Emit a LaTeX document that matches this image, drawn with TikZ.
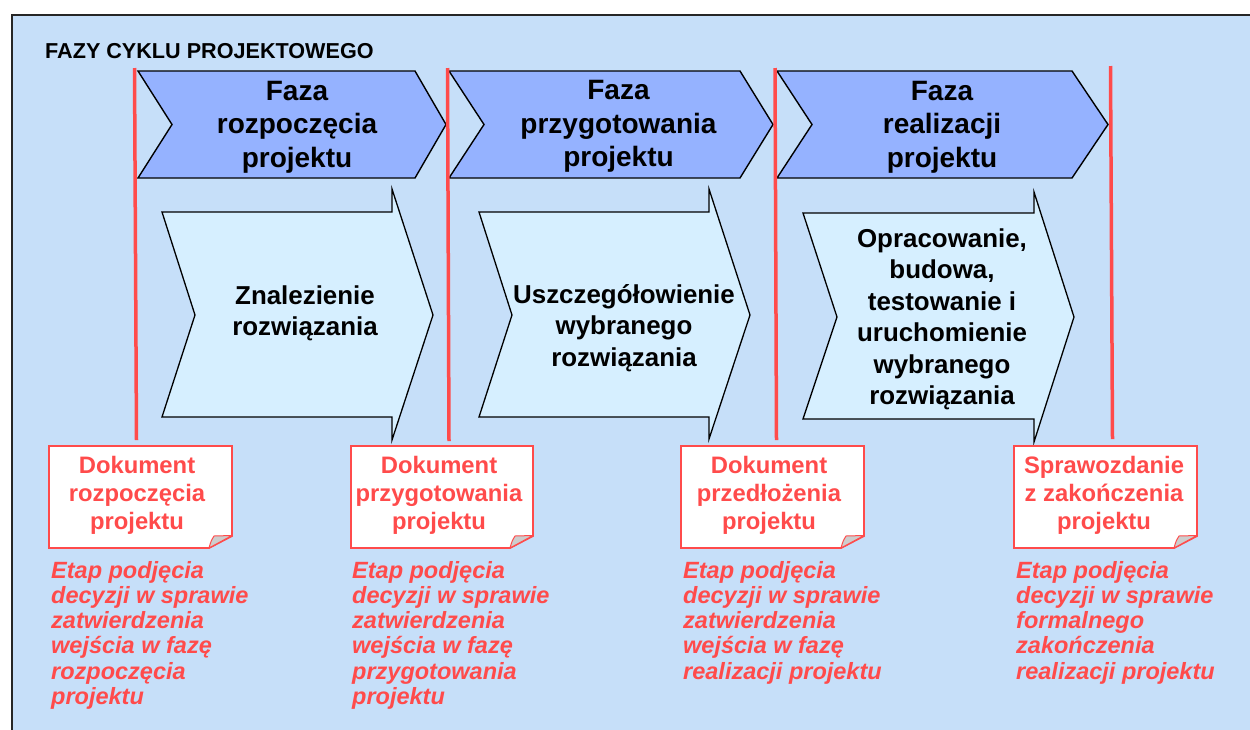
\documentclass[tikz,border=0pt]{standalone}
\usepackage{fontspec}
\setmainfont{Liberation Sans}
\definecolor{bgblue}{RGB}{198,223,249}
\definecolor{phaseblue}{RGB}{149,178,255}
\definecolor{lightfill}{RGB}{214,239,255}
\definecolor{redc}{RGB}{255,75,75}
\definecolor{foldgray}{RGB}{205,205,205}
\newcommand{\mlc}[1]{\begin{tabular}[t]{@{}c@{}}#1\end{tabular}}
\newcommand{\mll}[1]{\begin{tabular}[t]{@{}l@{}}#1\end{tabular}}
\tikzset{
  phaseshape/.style={draw=black, line width=1.4pt, fill=phaseblue, line join=miter},
  innershape/.style={draw=black, line width=1.3pt, fill=lightfill, line join=miter},
  gate/.style={draw=redc, line width=3.5pt},
  docshape/.style={draw=redc, line width=1.8pt, fill=white, line join=miter},
  foldshape/.style={draw=redc, line width=1pt, fill=foldgray, line join=round},
  phtext/.style={font=\bfseries\fontsize{28}{33.5}\selectfont, anchor=base, inner sep=0pt},
  intext/.style={font=\bfseries\fontsize{25.9}{31.5}\selectfont, anchor=base, inner sep=0pt},
  doctext/.style={font=\bfseries\fontsize{23.8}{28.3}\selectfont, text=redc, anchor=base, inner sep=0pt},
  etap/.style={font=\bfseries\itshape\fontsize{23.5}{25.3}\selectfont, text=redc, anchor=base west, inner sep=0pt},
}
\begin{document}
\begin{tikzpicture}[x=1pt, y=-1pt]
\useasboundingbox (0,0) rectangle (1250,729);
\clip (0,0) rectangle (1250,729);
\fill[white] (0,0) rectangle (1250,729);
\draw[fill=bgblue, draw=black!85, line width=1.8pt] (12,15) rectangle (1280,760);

\node[anchor=base west, font=\bfseries\fontsize{21.6}{25}\selectfont, inner sep=0pt] (title) at (45,58.3) {FAZY CYKLU PROJEKTOWEGO};

% phase chevrons
\draw[phaseshape] (138,71) -- (415,71) -- (446,124.5) -- (415,178) -- (138,178) -- (172,124.5) -- cycle;
\draw[phaseshape] (449,71) -- (740,71) -- (773,124.5) -- (740,178) -- (449,178) -- (484,124.5) -- cycle;
\draw[phaseshape] (777,71) -- (1072,71) -- (1108,124.5) -- (1072,178) -- (777,178) -- (812,124.5) -- cycle;
\node[phtext] (ph1) at (297,100) {\mlc{Faza\\rozpoczęcia\\projektu}};
\node[phtext] (ph2) at (618.5,99.5) {\mlc{Faza\\przygotowania\\projektu}};
\node[phtext] (ph3) at (942,100) {\mlc{Faza\\realizacji\\projektu}};

% inner arrows
\draw[innershape] (162,212) -- (392,212) -- (392,189) -- (433,315) -- (392,440) -- (392,417) -- (162,417) -- (195,315) -- cycle;
\draw[innershape] (479,212) -- (709,212) -- (709,189) -- (750,315) -- (709,439) -- (709,417) -- (479,417) -- (512,315) -- cycle;
\draw[innershape] (803,213) -- (1034,213) -- (1034,192) -- (1074,317) -- (1034,442) -- (1034,419) -- (803,419) -- (837,317) -- cycle;
\node[intext] (in1) at (305,304) {\mlc{Znalezienie\\rozwiązania}};
\node[intext] (in2) at (624,303) {\mlc{Uszczegółowienie\\wybranego\\rozwiązania}};
\node[intext] (in3) at (942,247) {\mlc{Opracowanie,\\budowa,\\testowanie i\\uruchomienie\\wybranego\\rozwiązania}};

% red gate lines
\draw[gate] (134.5,68) -- (136.5,440);
\draw[gate] (447.5,68) -- (449,441);
\draw[gate] (775,68) -- (776.5,440);
\draw[gate] (1110.5,66) -- (1112.5,439);

% document boxes
\draw[docshape] (49,446) -- (232,446) -- (232,536) -- (209,548) -- (49,548) -- cycle;
\draw[foldshape] (209,548) .. controls (211,541) .. (214,536) -- (232,535.5) -- cycle;
\draw[docshape] (351,446) -- (533,446) -- (533,536) -- (510,548) -- (351,548) -- cycle;
\draw[foldshape] (510,548) .. controls (512,541) .. (515,536) -- (533,535.5) -- cycle;
\draw[docshape] (681,446) -- (864,446) -- (864,536) -- (841,548) -- (681,548) -- cycle;
\draw[foldshape] (841,548) .. controls (843,541) .. (846,536) -- (864,535.5) -- cycle;
\draw[docshape] (1014,446) -- (1197,446) -- (1197,536) -- (1174,548) -- (1014,548) -- cycle;
\draw[foldshape] (1174,548) .. controls (1176,541) .. (1179,536) -- (1197,535.5) -- cycle;

\node[doctext] (d1) at (137,473) {\mlc{Dokument\\rozpoczęcia\\projektu}};
\node[doctext] (d2) at (439,473) {\mlc{Dokument\\przygotowania\\projektu}};
\node[doctext] (d3) at (769,473) {\mlc{Dokument\\przedłożenia\\projektu}};
\node[doctext] (d4) at (1104,473) {\mlc{Sprawozdanie\\z zakończenia\\projektu}};

% decision stage texts
\node[etap] (e1) at (51,578) {\mll{Etap podjęcia\\decyzji w sprawie\\zatwierdzenia\\wejścia w fazę\\rozpoczęcia\\projektu}};
\node[etap] (e2) at (352,578) {\mll{Etap podjęcia\\decyzji w sprawie\\zatwierdzenia\\wejścia w fazę\\przygotowania\\projektu}};
\node[etap] (e3) at (683,578) {\mll{Etap podjęcia\\decyzji w sprawie\\zatwierdzenia\\wejścia w fazę\\realizacji projektu}};
\node[etap] (e4) at (1016,578) {\mll{Etap podjęcia\\decyzji w sprawie\\formalnego\\zakończenia\\realizacji projektu}};
\end{tikzpicture}
\end{document}
